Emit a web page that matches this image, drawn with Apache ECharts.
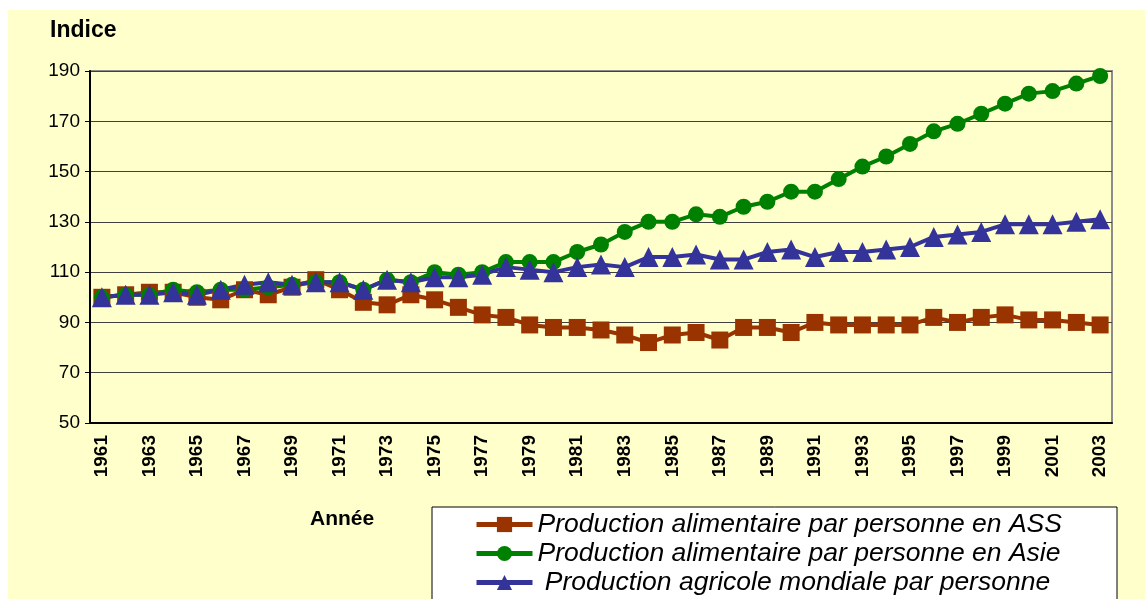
<!DOCTYPE html>
<html>
<head>
<meta charset="utf-8">
<script src="https://cdn.jsdelivr.net/npm/echarts@6/dist/echarts.min.js"></script>
<style>
  html, body { margin: 0; padding: 0; background: #fff; }
  .bg { position: absolute; left: 8px; top: 10px; right: 0; bottom: 0; background: #FFFFCC; }
  .root { position: absolute; left: 0; top: 0; width: 1145px; height: 599px; }
</style>
</head>
<body>
<div class="bg"></div>
<div class="root"></div>
<script>
const years = ['1961','1962','1963','1964','1965','1966','1967','1968','1969','1970',
  '1971','1972','1973','1974','1975','1976','1977','1978','1979','1980',
  '1981','1982','1983','1984','1985','1986','1987','1988','1989','1990',
  '1991','1992','1993','1994','1995','1996','1997','1998','1999','2000',
  '2001','2002','2003']

const assValues = [100,101,102,102,100,99,103,101,104,107,
  103,98,97,101,99,96,93,92,89,88,
  88,87,85,82,85,86,83,88,88,86,
  90,89,89,89,89,92,90,92,93,91,
  91,90,89]

const asieValues = [100,101,101,103,102,103,103,104,105,106,
  106,103,107,106,110,109,110,114,114,114,
  118,121,126,130,130,133,132,136,138,142,
  142,147,152,156,161,166,169,173,177,181,
  182,185,188]

const mondeValues = [100,101,101,102,101,103,105,106,105,106,
  106,103,107,106,108,108,109,112,111,110,
  112,113,112,116,116,117,115,115,118,119,
  116,118,118,119,120,124,125,126,129,129,
  129,130,131]

const seriesNames = [
  'Production alimentaire par personne en ASS',
  'Production alimentaire par personne en Asie',
  ' Production agricole mondiale par personne'
]

const FONT = '"Liberation Sans", Arial, sans-serif'

const mkLine = (name, data, color, symbol, size) => ({
  type: 'line',
  name,
  data,
  symbol,
  symbolSize: size,
  showAllSymbol: true,
  lineStyle: { color, width: 4 },
  itemStyle: { color },
  emphasis: { disabled: true },
  animation: false
})

const option = {
  animation: false,
  grid: {
    left: 90, top: 71, width: 1022, height: 352,
    show: true,
    borderColor: '#8c8c8c',
    borderWidth: 2,
    backgroundColor: 'transparent'
  },
  graphic: [
    {
      type: 'rect', z: 0,
      shape: { x: 432, y: 507, width: 685, height: 120 },
      style: { fill: '#fff', stroke: '#000', lineWidth: 1 }
    },
    {
      type: 'text', left: 50, top: 19,
      style: { text: 'Indice', font: 'bold 23px ' + FONT, fill: '#000' }
    },
    {
      type: 'text', left: 310, top: 509,
      style: { text: 'Année', font: 'bold 21px ' + FONT, fill: '#000' }
    }
  ],
  legend: {
    orient: 'vertical',
    left: 474, top: 510,
    itemWidth: 56, itemHeight: 19, itemGap: 0,
    padding: 0,
    data: seriesNames,
    lineStyle: { width: 5 },
    textStyle: { fontFamily: FONT, fontSize: 26.5, lineHeight: 29, fontStyle: 'italic', color: '#000' },
    selectedMode: false
  },
  xAxis: {
    type: 'category',
    data: years,
    boundaryGap: true,
    axisLine: { lineStyle: { color: '#000', width: 2 } },
    axisTick: { interval: 0, length: 5, lineStyle: { color: '#000', width: 1 } },
    axisLabel: {
      interval: 1, rotate: 90, margin: 12,
      fontFamily: FONT, fontSize: 19, fontWeight: 'bold', color: '#000'
    },
    splitLine: { show: false }
  },
  yAxis: {
    type: 'value',
    min: 50, max: 190, interval: 20,
    axisLine: { show: true, lineStyle: { color: '#000', width: 2 } },
    axisTick: { show: true, length: 5, lineStyle: { color: '#000' } },
    axisLabel: { margin: 10, fontFamily: FONT, fontSize: 19, color: '#000' },
    splitLine: { lineStyle: { color: '#404040', width: 1 } }
  },
  series: [
    mkLine(seriesNames[0], assValues, '#993300', 'rect', 17),
    mkLine(seriesNames[1], asieValues, '#008000', 'circle', 16),
    mkLine(seriesNames[2], mondeValues, '#333399', 'triangle', 20)
  ]
}

const chart = echarts.init(document.querySelector('.root'), null, { renderer: 'canvas' })
chart.setOption(option)
</script>
</body>
</html>
